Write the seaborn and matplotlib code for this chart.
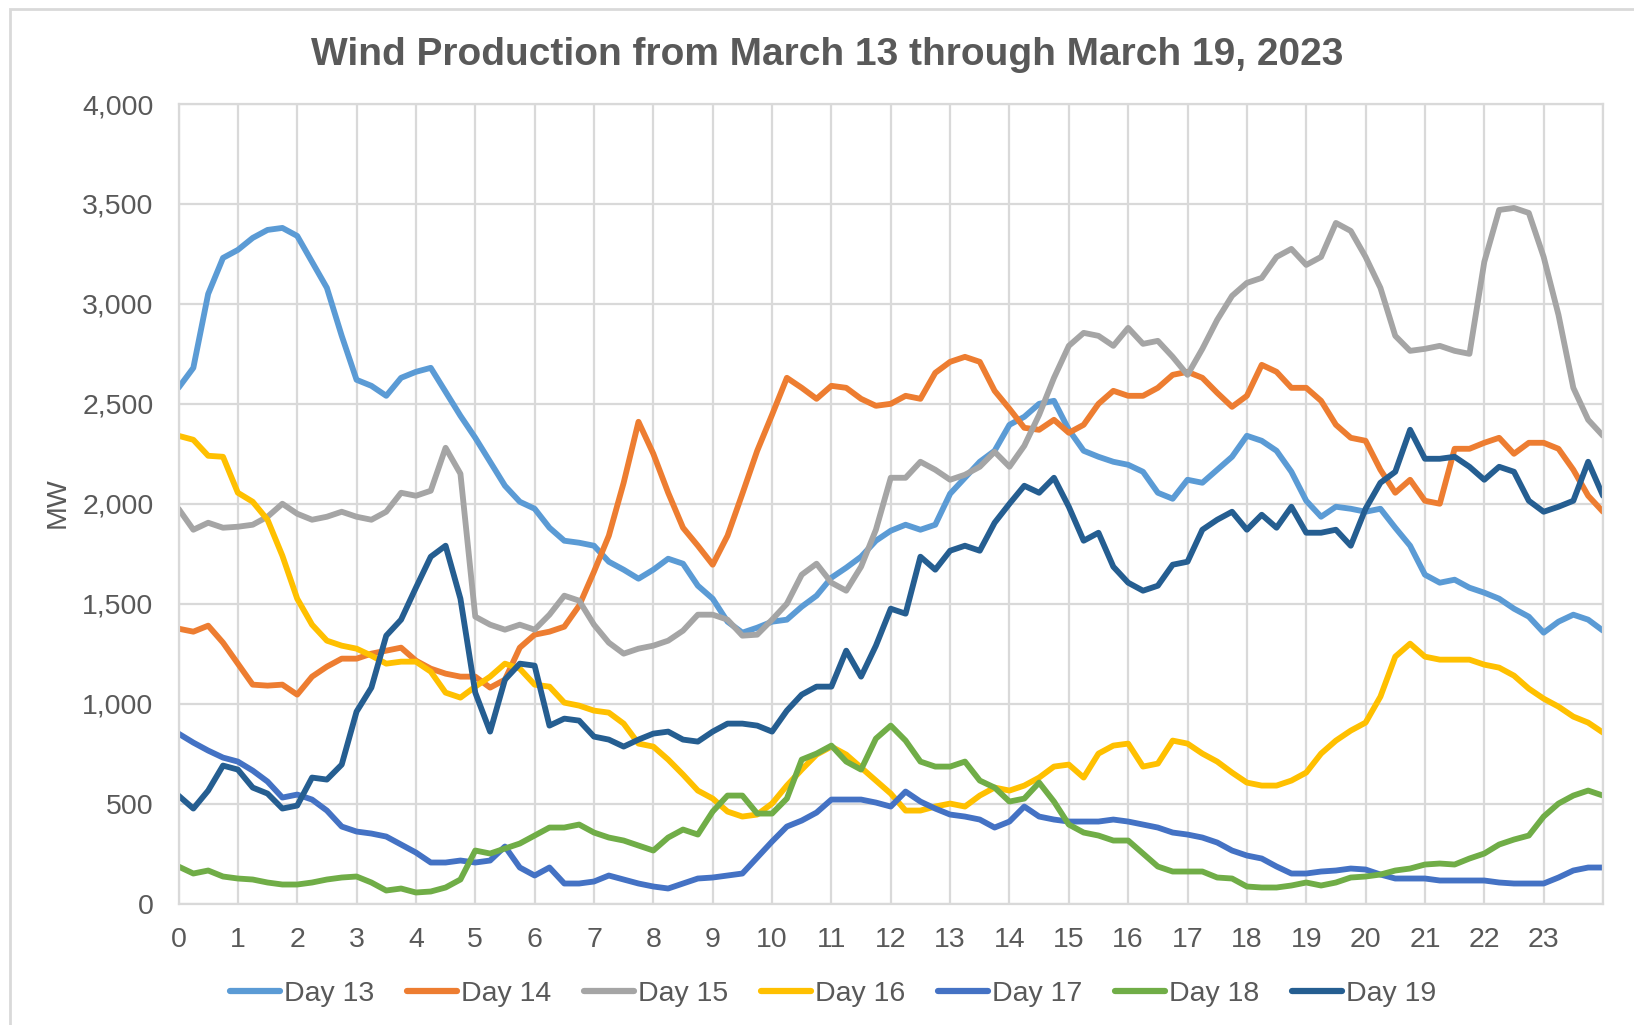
import numpy as np
import pandas as pd
import matplotlib
matplotlib.use("Agg")
import matplotlib.pyplot as plt
import seaborn as sns
from matplotlib.patches import Rectangle
from matplotlib.ticker import FuncFormatter

# hour of day, read every quarter hour off the chart
hours = np.arange(97) * 0.25

day13 = [2580, 2680, 3050, 3230, 3270, 3330, 3370, 3380, 3340, 3210, 3080, 2840,
         2620, 2590, 2540, 2630, 2660, 2680, 2560, 2440, 2330, 2210, 2090, 2010,
         1975, 1880, 1815, 1805, 1790, 1710, 1670, 1625, 1670, 1725, 1700, 1590,
         1525, 1410, 1355, 1380, 1410, 1420, 1485, 1540, 1630, 1680, 1735, 1815,
         1865, 1895, 1870, 1895, 2050, 2130, 2210, 2265, 2395, 2435, 2500, 2515,
         2370, 2265, 2235, 2210, 2195, 2160, 2055, 2025, 2120, 2105, 2170, 2235,
         2340, 2315, 2265, 2160, 2015, 1935, 1985, 1975, 1960, 1975, 1880, 1790,
         1645, 1605, 1620, 1580, 1555, 1525, 1475, 1435, 1355, 1410, 1445, 1420,
         1365]
day14 = [1375, 1360, 1390, 1305, 1200, 1095, 1090, 1095, 1045, 1135, 1185, 1225,
         1225, 1250, 1265, 1280, 1215, 1175, 1150, 1135, 1135, 1080, 1120, 1280,
         1345, 1360, 1385, 1490, 1660, 1840, 2105, 2410, 2250, 2055, 1880, 1790,
         1695, 1840, 2050, 2265, 2445, 2630, 2580, 2525, 2590, 2580, 2525, 2490,
         2500, 2540, 2525, 2655, 2710, 2735, 2710, 2565, 2475, 2380, 2370, 2420,
         2355, 2395, 2500, 2565, 2540, 2540, 2580, 2645, 2660, 2630, 2555, 2485,
         2540, 2695, 2660, 2580, 2580, 2515, 2395, 2330, 2315, 2170, 2055, 2120,
         2015, 2000, 2275, 2275, 2305, 2330, 2250, 2305, 2305, 2275, 2170, 2040,
         1960]
day15 = [1975, 1870, 1905, 1880, 1885, 1895, 1935, 2000, 1950, 1920, 1935, 1960,
         1935, 1920, 1960, 2055, 2040, 2065, 2280, 2150, 1435, 1395, 1370, 1395,
         1370, 1445, 1540, 1515, 1395, 1305, 1250, 1275, 1290, 1315, 1365, 1445,
         1445, 1420, 1340, 1345, 1420, 1500, 1645, 1700, 1605, 1565, 1685, 1870,
         2130, 2130, 2210, 2170, 2120, 2145, 2185, 2260, 2185, 2290, 2445, 2630,
         2790, 2855, 2840, 2790, 2880, 2800, 2815, 2735, 2645, 2775, 2920, 3040,
         3105, 3130, 3235, 3275, 3195, 3235, 3405, 3365, 3235, 3080, 2840, 2765,
         2775, 2790, 2765, 2750, 3210, 3470, 3480, 3455, 3235, 2945, 2580, 2420,
         2340]
day16 = [2340, 2320, 2240, 2235, 2055, 2010, 1920, 1740, 1525, 1395, 1315, 1290,
         1275, 1240, 1200, 1210, 1210, 1160, 1055, 1030, 1085, 1135, 1200, 1175,
         1095, 1085, 1005, 990, 965, 955, 900, 800, 785, 720, 645, 565,
         525, 460, 435, 445, 500, 590, 670, 745, 785, 745, 680, 615,
         550, 465, 465, 485, 500, 485, 540, 580, 565, 590, 630, 685,
         695, 630, 750, 790, 800, 685, 700, 815, 800, 750, 710, 655,
         605, 590, 590, 615, 655, 750, 815, 865, 905, 1035, 1235, 1300,
         1235, 1220, 1220, 1220, 1195, 1180, 1140, 1075, 1025, 985, 935, 905,
         855]
day17 = [850, 805, 765, 730, 710, 665, 610, 530, 545, 520, 465, 385,
         360, 350, 335, 295, 255, 205, 205, 215, 205, 215, 285, 180,
         140, 180, 100, 100, 110, 140, 120, 100, 85, 75, 100, 125,
         130, 140, 150, 230, 310, 385, 415, 455, 520, 520, 520, 505,
         485, 560, 510, 475, 445, 435, 420, 380, 410, 485, 435, 420,
         410, 410, 410, 420, 410, 395, 380, 355, 345, 330, 305, 265,
         240, 225, 185, 150, 150, 160, 165, 175, 170, 145, 125, 125,
         125, 115, 115, 115, 115, 105, 100, 100, 100, 130, 165, 180,
         180]
day18 = [185, 150, 165, 135, 125, 120, 105, 95, 95, 105, 120, 130,
         135, 105, 65, 75, 55, 60, 80, 120, 265, 250, 275, 300,
         340, 380, 380, 395, 355, 330, 315, 290, 265, 330, 370, 345,
         460, 540, 540, 450, 450, 525, 720, 750, 790, 710, 670, 825,
         890, 815, 710, 685, 685, 710, 615, 580, 510, 525, 605, 510,
         395, 355, 340, 315, 315, 250, 185, 160, 160, 160, 130, 125,
         85, 80, 80, 90, 105, 90, 105, 130, 135, 145, 165, 175,
         195, 200, 195, 225, 250, 295, 320, 340, 435, 500, 540, 565,
         540]
day19 = [540, 475, 565, 690, 670, 580, 550, 475, 490, 630, 620, 695,
         960, 1080, 1340, 1420, 1580, 1735, 1790, 1525, 1055, 860, 1120, 1200,
         1190, 890, 925, 915, 835, 820, 785, 820, 850, 860, 820, 810,
         860, 900, 900, 890, 860, 965, 1045, 1085, 1085, 1265, 1135, 1290,
         1475, 1450, 1735, 1670, 1765, 1790, 1765, 1905, 2000, 2090, 2055, 2130,
         1985, 1815, 1855, 1685, 1605, 1565, 1590, 1695, 1710, 1870, 1920, 1960,
         1870, 1945, 1880, 1985, 1855, 1855, 1870, 1790, 1975, 2105, 2160, 2370,
         2225, 2225, 2235, 2185, 2120, 2185, 2160, 2015, 1960, 1985, 2015, 2210,
         2040]

days = ["Day 13", "Day 14", "Day 15", "Day 16", "Day 17", "Day 18", "Day 19"]
colors = ["#5B9BD5", "#ED7D31", "#A5A5A5", "#FFC000", "#4472C4", "#70AD47", "#255E91"]

series = [day13, day14, day15, day16, day17, day18, day19]
df = pd.concat([pd.DataFrame({"hour": hours, "MW": vals, "day": name})
                for name, vals in zip(days, series)], ignore_index=True)

sns.set_theme(style="white")
plt.rcParams["font.family"] = ["Liberation Sans", "DejaVu Sans"]

W, H = 1634, 1025
fig = plt.figure(figsize=(W / 100, H / 100), dpi=100)
ax = fig.add_axes([178.5 / W, 1 - 903.5 / H, 1424.5 / W, 799.5 / H])

sns.lineplot(data=df, x="hour", y="MW", hue="day", palette=colors,
             linewidth=4.2, ax=ax)
for ln in ax.get_lines():
    ln.set_linewidth(4.2)
    ln.set_solid_joinstyle("round")
    ln.set_solid_capstyle("round")

grid_col = "#D9D9D9"
ax.set_xlim(0, 24)
ax.set_ylim(0, 4000)
ax.set_xticks(range(25))
ax.set_xticklabels([str(h) for h in range(24)] + [""])
ax.set_yticks(range(0, 4001, 500))
ax.yaxis.set_major_formatter(FuncFormatter(lambda v, _: f"{v:,.0f}"))
ax.grid(True, color=grid_col, linewidth=1.6)
ax.set_axisbelow(True)
for s in ax.spines.values():
    s.set_color(grid_col)
    s.set_linewidth(1.6)
ax.tick_params(length=0, labelsize=20.5, colors="#595959")
ax.tick_params(axis="y", pad=18)
ax.tick_params(axis="x", pad=17)
ax.set_xlabel("")
ax.set_ylabel("")

fig.text(58 / W, 1 - 503 / H, "MW", rotation=90, ha="center", va="center",
         fontsize=20.5, color="#595959")
fig.text(827 / W, 1 - 64.5 / H, "Wind Production from March 13 through March 19, 2023",
         ha="center", va="baseline", fontsize=28, fontweight="bold", color="#595959")

sns.move_legend(ax, "center", bbox_to_anchor=(0.4595, -0.1135), ncol=7,
                frameon=False, title=None, fontsize=20.5, handlelength=1.75,
                handletextpad=0.14, columnspacing=1.16, labelcolor="#595959")
for ln in ax.get_legend().get_lines():
    ln.set_linewidth(4.5)
    ln.set_solid_capstyle("round")

# chart area border (cropped at right and bottom)
fig.patches.append(Rectangle((10 / W, -0.1), 1.2, 1.1 - 9 / H, transform=fig.transFigure,
                             fill=False, edgecolor=grid_col, linewidth=2))

fig.savefig("out.png", dpi=100)
